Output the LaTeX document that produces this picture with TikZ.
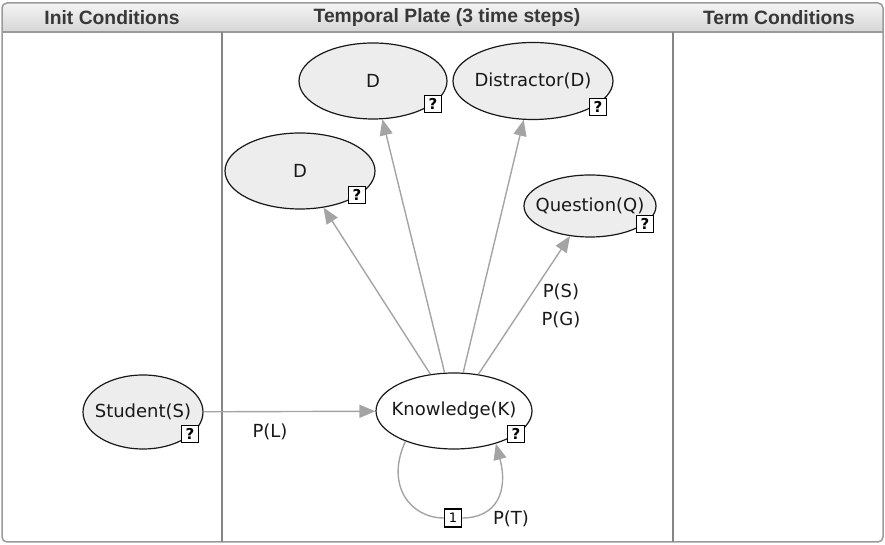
\documentclass[tikz,border=0pt]{standalone}
\usepackage{fontspec}
\setmainfont{DejaVu Sans}
\newfontfamily\headfont{Liberation Sans}
\usetikzlibrary{shapes.geometric,arrows.meta}

\definecolor{nodefill}{HTML}{EDEDED}
\definecolor{linkgray}{HTML}{A4A4A4}
\definecolor{framegray}{HTML}{9A9A9A}
\definecolor{sepgray}{HTML}{858585}
\definecolor{headtext}{HTML}{383838}
\definecolor{headtop}{HTML}{F4F4F4}
\definecolor{headbot}{HTML}{D6D6D6}

\tikzset{
  varnode/.style={ellipse, draw=black!90, line width=1.2pt, fill=nodefill,
    inner sep=0pt, label={[font=\fontsize{18}{20}\selectfont, text=black!90]center:#1}},
  qbox/.style={draw=black, line width=1.1pt, fill=white, minimum width=17pt,
    minimum height=17pt, inner sep=0pt, font=\bfseries\fontsize{15}{15}\selectfont},
  link/.style={draw=linkgray, line width=1.4pt},
  arrowlink/.style={link, -{Triangle[length=16pt,width=13pt]}, fill=none},
  problabel/.style={font=\fontsize{18}{20}\selectfont, text=black!90, inner sep=0pt},
  headlabel/.style={font=\headfont\bfseries\fontsize{19.3}{21}\selectfont, text=headtext, inner sep=0pt}
}

\begin{document}
\begin{tikzpicture}[x=1pt,y=1pt]
  \useasboundingbox (0,0) rectangle (885,545);

  % header band with rounded upper corners
  \shade[top color=headtop, bottom color=headbot]
    (2,513) [rounded corners=5pt]-- (2,542) -- (883,542) [sharp corners]-- (883,513) -- cycle;
  \draw[framegray, line width=1.2pt] (2,513) -- (883,513);

  % outer frame
  \draw[framegray, line width=1.5pt, rounded corners=5pt] (2,3) rectangle (883,542);

  % column separators
  \draw[sepgray, line width=1.8pt] (222,513) -- (222,3);
  \draw[sepgray, line width=1.8pt] (673,513) -- (673,3);

  % column titles
  \node[headlabel] (hinit) at (112,527) {Init Conditions};
  \node[headlabel] (htemp) at (447,527) {Temporal Plate (3 time steps)};
  \node[headlabel] (hterm) at (779,527) {Term Conditions};

  % variables
  \node[varnode={D}, minimum width=148pt, minimum height=76pt] (D1) at (373,464) {};
  \node[varnode={Distractor(D)}, minimum width=160pt, minimum height=77pt] (DD) at (533,464) {};
  \node[varnode={D}, minimum width=150pt, minimum height=76pt] (D2) at (300,374) {};
  \node[varnode={Question(Q)}, minimum width=132pt, minimum height=62pt] (Q) at (590,339) {};
  \node[varnode={Student(S)}, minimum width=120pt, minimum height=74pt] (S) at (143,133) {};
  \node[varnode={Knowledge(K)}, fill=white, minimum width=156pt, minimum height=76pt] (K) at (454,134) {};

  % definition markers
  \node[qbox] (D1q) at (433,441) {?};
  \node[qbox] (DDq) at (598,438) {?};
  \node[qbox] (D2q) at (357,350) {?};
  \node[qbox] (Qq) at (645,321) {?};
  \node[qbox] (Sq) at (190,111) {?};
  \node[qbox] (Kq) at (516,111) {?};

  % dependencies
  \draw[arrowlink] (S) -- (K);
  \draw[arrowlink] (K) -- (D2);
  \draw[arrowlink] (K) -- (D1);
  \draw[arrowlink] (K) -- (DD);
  \draw[arrowlink] (K) -- (Q);

  % temporal self link
  \node[qbox, font=\fontsize{13}{13}\selectfont, minimum height=18pt] (one) at (453,27) {1};
  \draw[link] (K.212) .. controls +(245:48) and +(180:34) .. (one.west);
  \draw[arrowlink] (one.east) .. controls +(0:34) and +(285:50) .. (K.322);

  % probability labels
  \node[problabel] (pl) at (270,113) {P(L)};
  \node[problabel] (ps) at (561,253) {P(S)};
  \node[problabel] (pg) at (561,225) {P(G)};
  \node[problabel] (pt) at (511,26) {P(T)};
\end{tikzpicture}
\end{document}
